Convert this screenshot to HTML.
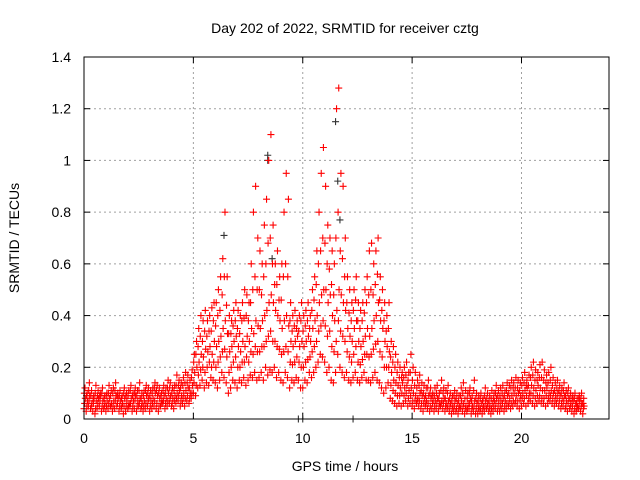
<!DOCTYPE html>
<html><head><meta charset="utf-8"><style>
body{margin:0;background:#fff;}
svg{display:block;font-family:"Liberation Sans",sans-serif;}
</style></head><body>
<svg id="chart" width="640" height="480">
<text x="345" y="33" font-size="14" text-anchor="middle">Day 202 of 2022, SRMTID for receiver cztg</text>
<text x="345" y="471" font-size="14" text-anchor="middle">GPS time / hours</text>
<text transform="translate(19,238) rotate(-90)" font-size="14" text-anchor="middle">SRMTID / TECUs</text>
<g id="grid"></g><g id="ticks"></g><g id="black"></g><g id="red"></g>
<rect x="84" y="57" width="525" height="362" fill="none" stroke="#000" stroke-width="1"/>
</svg>
<script>
const xTicks=[0,5,10,15,20];
const yTicks=[0,0.2,0.4,0.6,0.8,1,1.2,1.4];
const yTickLabels=["0","0.2","0.4","0.6","0.8","1","1.2","1.4"];
const binStart=0, binStep=0.1;
const lowVals=[4,3,5,4,3,2,4,5,3,4,3,4,5,3,4,5,3,4,2,3,4,5,3,4,3,5,4,3,4,5,3,4,5,4,3,5,6,4,5,6,5,4,6,7,5,6,5,7,6,8,
10,9,12,13,15,12,14,13,16,15,14,12,15,18,16,14,10,12,15,14,12,15,14,16,13,15,17,16,18,15,16,18,15,20,17,19,18,20,16,18,
15,14,18,16,12,15,14,16,15,12,12,15,14,18,16,18,20,22,25,24,22,18,20,15,14,18,25,20,18,16,18,15,14,16,18,15,14,16,18,15,
15,14,16,18,15,14,12,10,12,14,8,7,6,5,6,5,6,7,5,6,5,4,6,5,4,3,5,4,3,4,3,4,3,5,4,3,4,3,2,3,3,2,4,3,2,3,4,2,3,2,
2,3,2,3,4,3,2,3,4,3,3,4,3,4,5,4,5,6,5,4,5,6,5,6,7,6,5,6,7,6,6,5,6,7,6,5,6,5,4,5,4,3,4,3,2,3,4,3,2];
const lowMidVals=[6,5,7,5,6,4,6,7,5,5,5,6,5,5,7,6,5,5,5,5,5,6,5,7,5,6,5,5,6,7,5,6,7,6,5,6,7,6,7,8,6,7,8,9,7,8,8,9,8,10,
14,13,17,19,20,18,20,22,20,22,20,22,24,26,27,24,18,20,22,24,20,20,22,22,24,22,26,25,28,26,26,28,28,30,32,34,30,30,28,27,
25,26,28,26,22,21,22,24,22,20,20,22,23,24,26,28,30,34,36,38,36,32,34,28,26,30,38,34,32,30,26,24,22,25,28,22,21,23,25,25,
24,25,27,29,30,26,24,20,20,20,13,11,10,9,9,10,9,10,8,9,7,7,7,7,6,6,6,6,5,6,5,6,5,6,6,5,5,5,4,5,4,4,5,5,4,4,6,4,5,4,
4,4,4,5,5,4,4,5,6,5,5,6,5,6,6,6,7,7,7,7,8,8,9,8,10,9,8,9,9,8,8,9,8,9,8,7,8,7,6,7,5,6,5,5,4,4,5,5,4];
const midVals=[8,7,9,6,8,7,8,9,7,6,7,8,6,7,9,8,7,6,8,7,6,8,7,9,7,8,6,7,9,8,7,8,10,9,8,7,9,8,10,9,8,9,10,11,9,10,11,12,10,13,
18,20,22,25,24,27,26,28,25,30,28,30,32,35,38,33,26,28,30,32,28,26,30,28,32,30,35,33,38,36,35,38,40,42,45,48,45,42,40,38,
35,38,40,36,30,28,30,32,28,30,28,30,32,30,35,38,40,45,48,50,50,45,48,40,38,42,50,48,45,42,35,32,30,35,38,30,28,30,32,35,
32,35,38,40,45,38,35,30,28,26,18,15,14,13,12,14,12,13,11,12,10,9,8,10,9,8,7,9,8,7,7,8,6,7,8,6,7,6,5,7,6,5,7,6,5,6,8,5,7,6,
5,6,5,7,6,5,6,7,8,7,7,8,7,9,8,9,10,9,10,9,10,11,12,10,13,12,11,13,12,11,11,12,10,11,10,9,10,9,8,9,7,8,6,7,6,5,7,6,5];
const midHighVals=[10,9,11,9,8,10,9,9,10,8,9,10,9,10,11,9,9,8,10,9,9,11,9,10,9,11,8,9,11,10,9,10,12,11,10,9,11,10,12,12,10,11,13,13,12,13,14,14,12,16,
22,25,28,32,30,34,32,34,34,38,36,40,42,48,55,44,33,33,36,38,35,33,38,39,40,38,45,50,55,50,50,48,55,60,68,70,60,52,52,46,
46,55,60,55,38,34,36,35,34,38,34,36,38,35,42,46,52,60,65,70,68,60,58,52,48,70,80,65,62,55,45,41,38,42,46,38,35,38,41,45,
48,50,48,52,56,46,42,38,34,35,24,22,20,18,16,16,16,17,15,18,15,13,12,13,11,10,9,12,10,9,9,10,8,11,10,8,10,8,7,9,8,7,9,10,8,8,10,7,11,8,
7,8,7,9,8,7,8,8,10,9,9,10,9,11,10,12,12,12,12,11,13,14,13,13,16,17,15,15,16,16,15,14,14,15,13,11,12,11,10,11,9,10,8,8,8,6,8,8,6];
const highVals=[12,10,14,11,9,13,11,10,12,9,10,13,11,12,14,10,11,9,12,10,11,13,10,12,11,14,10,11,13,12,11,12,14,13,12,10,13,12,15,14,12,13,17,15,14,16,18,17,15,19,
25,30,35,40,38,42,38,40,43,45,45,50,55,62,80,55,40,38,42,45,42,40,45,50,48,45,60,80,90,70,65,60,75,85,100,110,75,60,65,55,
60,80,95,85,45,40,42,38,40,45,40,42,45,40,50,55,65,80,95,105,90,75,70,65,60,120,128,95,90,70,55,50,45,50,55,45,42,45,50,55,
65,68,60,65,70,55,50,45,40,45,30,28,25,22,20,18,20,22,18,25,20,18,15,17,14,13,12,15,12,10,12,13,10,15,12,11,13,10,9,11,10,9,12,14,11,10,12,9,15,10,
9,10,8,12,10,9,11,10,13,11,12,13,11,14,13,15,14,16,15,14,16,18,15,17,20,22,19,18,21,22,19,17,18,20,16,14,15,13,12,14,11,12,10,9,10,8,9,10,8];
const blackHours=[6.4,8.4,8.4,11.5,11.7,9.8,10.0,12.3,11.6,8.6];
const blackVals=[0.71,1.02,1.0,1.15,0.77,0.0,0.0,0.0,0.92,0.62];
const X0=84,X1=609,Y0=419,Y1=57,XMAX=24,YMAX=1.4;
const xs=v=>X0+(X1-X0)*v/XMAX, ys=v=>Y0-(Y0-Y1)*v/YMAX;
const NS="http://www.w3.org/2000/svg";
function mk(tag,parent,attrs){const e=document.createElementNS(NS,tag);for(const k in attrs)e.setAttribute(k,attrs[k]);parent.appendChild(e);return e;}
const grid=document.getElementById('grid'),ticks=document.getElementById('ticks');
xTicks.forEach(t=>{const x=xs(t);
 if(t>0){const g=mk('line',grid,{x1:x,x2:x,y1:Y1,y2:Y0,stroke:'#a0a0a0','stroke-dasharray':'2,3'});
 
 }
 mk('line',ticks,{x1:x,x2:x,y1:Y0,y2:Y0-6,stroke:'#000'});mk('line',ticks,{x1:x,x2:x,y1:Y1,y2:Y1+6,stroke:'#000'});
 const l=mk('text',ticks,{x:x,y:443,'font-size':14,'text-anchor':'middle'});l.textContent=t;
 
 });
yTicks.forEach((t,i)=>{const y=ys(t);
 if(i>0&&i<yTicks.length-1){const g=mk('line',grid,{x1:X0,x2:X1,y1:y,y2:y,stroke:'#a0a0a0','stroke-dasharray':'2,3'});
 
 }
 mk('line',ticks,{x1:X0,x2:X0+6,y1:y,y2:y,stroke:'#000'});mk('line',ticks,{x1:X1,x2:X1-6,y1:y,y2:y,stroke:'#000'});
 const l=mk('text',ticks,{x:71,y:y+5,'font-size':14,'text-anchor':'end'});l.textContent=yTickLabels[i];
 
 });
function cross(parent,t,v,col){const x=xs(t),y=ys(v);
 return mk('path',parent,{d:`M${x-3.5},${y}H${x+3.5}M${x},${y-3.5}V${y+3.5}`,stroke:col,'stroke-width':1.1,fill:'none'});}
const black=document.getElementById('black'),red=document.getElementById('red');
blackHours.forEach((t,i)=>{const p=cross(black,t,blackVals[i],'#333');
 
 });
const seriesList=[lowVals,lowMidVals,midVals,midHighVals,highVals];
const subOffsets=[0,0.03,0.06,0.015,0.045];
seriesList.forEach((arr,k)=>arr.forEach((v,i)=>{const t=binStart+i*binStep+subOffsets[k];
 const p=cross(red,t,v/100,'#f00');
 
 }));
</script>
</body></html>
